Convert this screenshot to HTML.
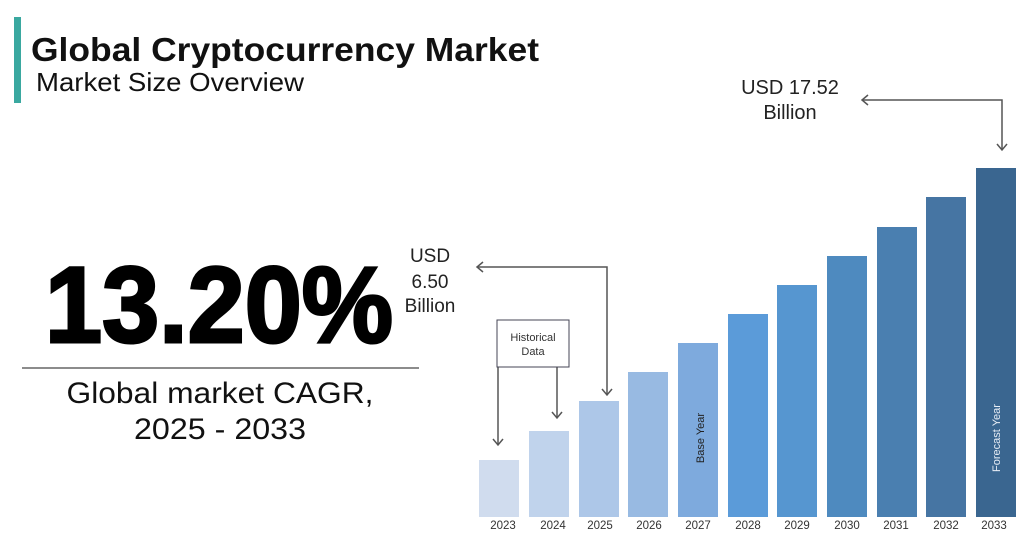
<!DOCTYPE html>
<html><head><meta charset="utf-8"><style>
html,body{margin:0;padding:0;background:#fff;}
svg{display:block;font-family:"Liberation Sans",sans-serif;}
</style></head><body>
<svg width="1024" height="549" viewBox="0 0 1024 549" xmlns="http://www.w3.org/2000/svg">
<rect width="1024" height="549" fill="#fff"/>
<rect x="14" y="17" width="7" height="86" fill="#3aa8a0"/>
<text x="31" y="61" font-size="33" font-weight="bold" fill="#111" textLength="508" lengthAdjust="spacingAndGlyphs">Global Cryptocurrency Market</text>
<text x="36" y="91" font-size="26" fill="#111" textLength="268" lengthAdjust="spacingAndGlyphs">Market Size Overview</text>
<text x="45" y="342" font-size="108" font-weight="bold" fill="#000" stroke="#000" stroke-width="3" textLength="348" lengthAdjust="spacingAndGlyphs">13.20%</text>
<line x1="22" y1="368" x2="419" y2="368" stroke="#666" stroke-width="1.5"/>
<text x="220" y="403" font-size="30" fill="#111" text-anchor="middle" textLength="307" lengthAdjust="spacingAndGlyphs">Global market CAGR,</text>
<text x="220" y="439" font-size="30" fill="#111" text-anchor="middle" textLength="172" lengthAdjust="spacingAndGlyphs">2025 - 2033</text>
<g font-size="19" fill="#222" text-anchor="middle">
<text x="430" y="262">USD</text><text x="430" y="288">6.50</text><text x="430" y="312">Billion</text>
<text x="790" y="94" font-size="20">USD 17.52</text><text x="790" y="119" font-size="20">Billion</text>
</g>
<g stroke="#555" stroke-width="1.5" fill="none">
<polyline points="477,267 607,267 607,395"/><polyline points="483,262 477,267 483,272"/><polyline points="602,389 607,395 612,389"/>
<polyline points="862,100 1002,100 1002,150"/><polyline points="868,95 862,100 868,105"/><polyline points="997,144 1002,150 1007,144"/>
<line x1="498" y1="367" x2="498" y2="445"/><polyline points="493,439 498,445 503,439"/>
<line x1="557" y1="367" x2="557" y2="418"/><polyline points="552,412 557,418 562,412"/>
</g>
<rect x="497" y="320" width="72" height="47" fill="#fff" stroke="#445" stroke-width="1"/>
<text x="533" y="341" font-size="11" fill="#333" text-anchor="middle">Historical</text>
<text x="533" y="355" font-size="11" fill="#333" text-anchor="middle">Data</text>
<g>
<rect x="479" y="460" width="40" height="57" fill="#d0dcee"/>
<rect x="529" y="431" width="40" height="86" fill="#c0d3ec"/>
<rect x="579" y="401" width="40" height="116" fill="#adc7e8"/>
<rect x="628" y="372" width="40" height="145" fill="#98bae2"/>
<rect x="678" y="343" width="40" height="174" fill="#7eaadd"/>
<rect x="728" y="314" width="40" height="203" fill="#5b9bd9"/>
<rect x="777" y="285" width="40" height="232" fill="#5696d0"/>
<rect x="827" y="256" width="40" height="261" fill="#4e8abf"/>
<rect x="877" y="227" width="40" height="290" fill="#4a7fb0"/>
<rect x="926" y="197" width="40" height="320" fill="#4675a3"/>
<rect x="976" y="168" width="40" height="349" fill="#3a6690"/>
</g>
<text transform="translate(704,438) rotate(-90)" font-size="11" fill="#222" text-anchor="middle">Base Year</text>
<text transform="translate(1000,438) rotate(-90)" font-size="11" fill="#e8eef6" text-anchor="middle">Forecast Year</text>
<g font-size="11.5" fill="#333" text-anchor="middle">
<text x="503" y="529">2023</text><text x="553" y="529">2024</text><text x="600" y="529">2025</text>
<text x="649" y="529">2026</text><text x="698" y="529">2027</text><text x="748" y="529">2028</text>
<text x="797" y="529">2029</text><text x="847" y="529">2030</text><text x="896" y="529">2031</text>
<text x="946" y="529">2032</text><text x="994" y="529">2033</text>
</g>
</svg>
</body></html>
